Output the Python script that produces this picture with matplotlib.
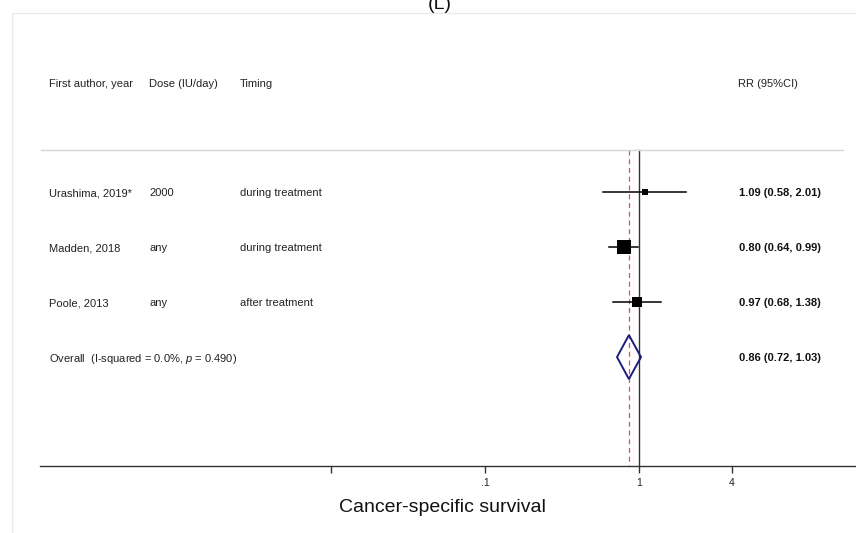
import numpy as np
import matplotlib
matplotlib.use("Agg")
import matplotlib.pyplot as plt
from matplotlib.transforms import blended_transform_factory
from matplotlib.patches import Polygon, Rectangle
from matplotlib.lines import Line2D

plt.rcParams['font.family'] = ['Liberation Sans', 'DejaVu Sans']
plt.rcParams['mathtext.fontset'] = 'custom'
plt.rcParams['mathtext.it'] = 'Liberation Sans:italic'
plt.rcParams['mathtext.rm'] = 'Liberation Sans'

# ---- data ----
authors = ["Urashima, 2019*", "Madden, 2018", "Poole, 2013"]
doses = ["2000", "any", "any"]
timings = ["during treatment", "during treatment", "after treatment"]
rr = [1.09, 0.80, 0.97]
lo = [0.58, 0.64, 0.68]
hi = [2.01, 0.99, 1.38]
weights = [10.5, 66.6, 32.0]
overall_rr, overall_lo, overall_hi = 0.86, 0.72, 1.03
overall_label = "Overall  (I-squared = 0.0%, $p$ = 0.490)"
headers = ["First author, year", "Dose (IU/day)", "Timing"]
rr_header = "RR (95%CI)"
tick_vals = [0.01, 0.1, 1, 4]
tick_labels = ["", ".1", "1", "4"]
xlabel = "Cancer-specific survival"
panel = "(L)"

W, H = 856, 533
fig = plt.figure(figsize=(W / 100, H / 100), dpi=100)

def fx(px):
    return px / W

def fy(py):
    return 1 - py / H

# light panel frame
fig.patches.append(Rectangle((fx(12), fy(600)), 1.2, fy(13) - fy(600),
                             transform=fig.transFigure, fill=False,
                             edgecolor='#e6ebeb', linewidth=1.0))

row_top = -2.5
row_bot = 4.98
ax = fig.add_axes([fx(40), fy(466), 1 - fx(40), fy(54.5) - fy(466)])
ax.set_xscale('log')
ax.set_xlim(10 ** ((40 - 639) / 154), 10 ** ((856 - 639) / 154))
ax.set_ylim(row_bot, row_top)
for s in ['top', 'right', 'left']:
    ax.spines[s].set_visible(False)
ax.spines['bottom'].set_color('#333333')
ax.spines['bottom'].set_linewidth(1.0)
ax.set_yticks([])
ax.set_xticks(tick_vals)
ax.set_xticklabels(tick_labels)
ax.minorticks_off()
ax.tick_params(axis='x', length=5, width=1.0, color='#333333', labelsize=7.5,
               labelcolor='#222222', pad=4)
ax.patch.set_alpha(0)

header_y = -1.98
line_y = -0.764
n = len(authors)
ys = np.arange(n)
overall_y = n

# reference lines
ax.plot([1, 1], [line_y, row_bot], color='#333333', lw=1.0, zorder=1)
ax.plot([overall_rr, overall_rr], [line_y, row_bot], color='#e05050', lw=0.9,
        linestyle=(0, (4, 3)), zorder=1)

# header separator
tr_fig_data = blended_transform_factory(fig.transFigure, ax.transData)
ax.add_line(Line2D([fx(41), fx(843)], [line_y, line_y], transform=tr_fig_data,
                   color='#d6d6d6', lw=1.0, clip_on=False))

# CI lines and squares
wmax = max(weights)
for i in range(n):
    ax.plot([lo[i], hi[i]], [ys[i], ys[i]], color='black', lw=1.1, zorder=3)
    side = 9.6 * np.sqrt(weights[i] / wmax)
    ax.scatter([rr[i]], [ys[i]], marker='s', s=side ** 2, color='black',
               zorder=4, linewidths=0)

# diamond
dh = 0.4
diamond = Polygon([[overall_lo, overall_y], [overall_rr, overall_y - dh],
                   [overall_hi, overall_y], [overall_rr, overall_y + dh]],
                  closed=True, fill=False, edgecolor='#1c1c7c', lw=1.4, zorder=4)
ax.add_patch(diamond)

# text columns
col_x = [49, 149, 240]
tcol = '#222222'
fs = 8
va = 'center_baseline'
for j, htxt in enumerate(headers):
    ax.text(fx(col_x[j]), header_y, htxt, transform=tr_fig_data, ha='left',
            va=va, fontsize=fs, color=tcol)
ax.text(fx(738), header_y, rr_header, transform=tr_fig_data, ha='left',
        va=va, fontsize=fs, color=tcol)
for i in range(n):
    for j, txt in enumerate([authors[i], doses[i], timings[i]]):
        ax.text(fx(col_x[j]), ys[i], txt, transform=tr_fig_data, ha='left',
                va=va, fontsize=fs, color=tcol)
    ax.text(fx(739), ys[i], f"{rr[i]:.2f} ({lo[i]:.2f}, {hi[i]:.2f})",
            transform=tr_fig_data, ha='left', va=va, fontsize=fs,
            color='#111111', fontweight='bold')
ax.text(fx(49), overall_y, overall_label, transform=tr_fig_data, ha='left',
        va=va, fontsize=fs, color=tcol)
ax.text(fx(739), overall_y,
        f"{overall_rr:.2f} ({overall_lo:.2f}, {overall_hi:.2f})",
        transform=tr_fig_data, ha='left', va=va, fontsize=fs,
        color='#111111', fontweight='bold')

# x label and panel title
fig.text(fx(442), fy(508), xlabel, ha='center', va='center', fontsize=14,
         color='#111111')
fig.text(fx(440), fy(9), panel, ha='center', va='baseline', fontsize=14,
         color='#111111')

fig.savefig("out.png", dpi=100)
